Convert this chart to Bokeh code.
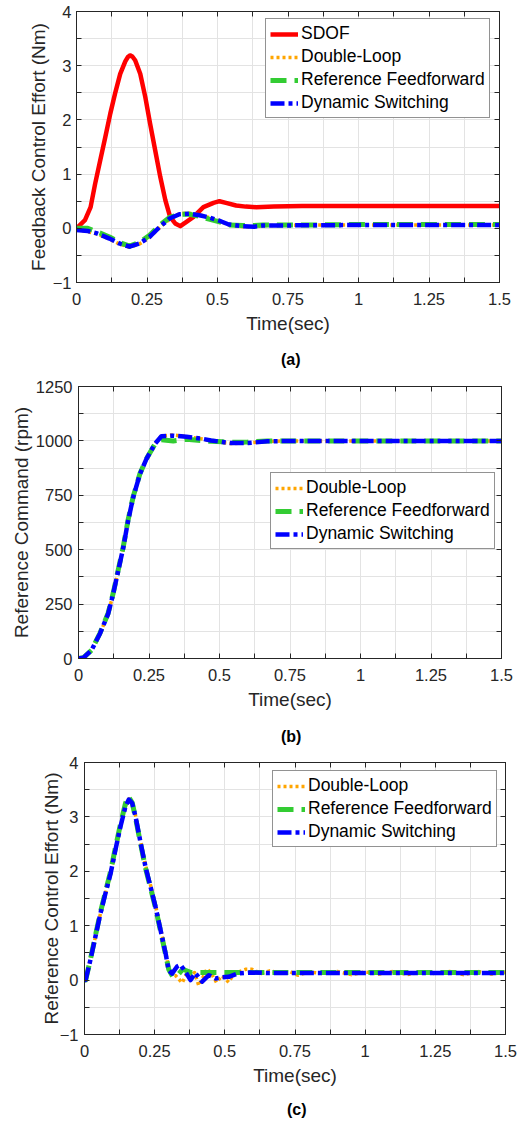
from bokeh.plotting import figure
from bokeh.layouts import column
from bokeh.models import Range1d, FixedTicker, LinearAxis, Div
from bokeh.embed import file_html
from bokeh.resources import INLINE

# ---------------- data ----------------
# panel (a): feedback control effort (Nm)
tA_sdof = [0, 0.03, 0.05, 0.066, 0.084, 0.102, 0.12, 0.137, 0.155, 0.173,
           0.182, 0.19, 0.198, 0.208, 0.226, 0.244, 0.261, 0.279, 0.297, 0.315,
           0.332, 0.35, 0.368, 0.39, 0.415, 0.45, 0.486, 0.507, 0.53, 0.566,
           0.6, 0.637, 0.7, 0.8, 1.0, 1.2, 1.5]
A_sdof = [0, 0.15, 0.39, 0.82, 1.25, 1.68, 2.12, 2.49, 2.85, 3.08,
          3.16, 3.19, 3.17, 3.1, 2.85, 2.42, 1.93, 1.44, 0.95, 0.52,
          0.21, 0.09, 0.04, 0.12, 0.21, 0.39, 0.47, 0.50, 0.47, 0.42,
          0.40, 0.39, 0.40, 0.41, 0.41, 0.41, 0.41]
tA = [0, 0.04, 0.07, 0.117, 0.152, 0.188, 0.223, 0.259, 0.294, 0.33,
      0.365, 0.40, 0.436, 0.47, 0.507, 0.54, 0.59, 0.63, 0.66, 0.8,
      1.0, 1.2, 1.5]
A_dl = [-0.03, -0.06, -0.1, -0.2, -0.29, -0.35, -0.29, -0.17, 0.01, 0.17,
        0.27, 0.28, 0.25, 0.2, 0.14, 0.06, 0.03, 0.02, 0.05, 0.06,
        0.06, 0.06, 0.06]
A_rff = [0.0, 0.0, -0.06, -0.16, -0.26, -0.33, -0.26, -0.13, 0.05, 0.2,
         0.26, 0.26, 0.22, 0.17, 0.12, 0.06, 0.05, 0.05, 0.06, 0.06,
         0.07, 0.07, 0.07]
A_dyn = [-0.03, -0.05, -0.09, -0.19, -0.28, -0.34, -0.28, -0.16, 0.02, 0.18,
         0.26, 0.27, 0.24, 0.2, 0.14, 0.07, 0.04, 0.03, 0.05, 0.055,
         0.06, 0.06, 0.06]

# panel (b): reference command (rpm)
tB = [0, 0.017, 0.046, 0.076, 0.105, 0.123, 0.141, 0.159, 0.176, 0.194,
      0.218, 0.241, 0.271, 0.294, 0.336, 0.383, 0.442, 0.47, 0.51, 0.54,
      0.6, 0.67, 0.75, 1.0, 1.25, 1.5]
B_dl = [0, 3, 38, 114, 205, 297, 404, 511, 634, 741,
        848, 917, 988, 1022, 1027, 1020, 1008, 1000, 992, 988,
        990, 998, 1000, 1000, 1000, 1000]
B_rff = [0, 3, 38, 116, 208, 300, 408, 515, 638, 744,
         850, 918, 985, 1005, 1000, 1008, 1000, 998, 996, 994,
         995, 999, 1000, 1000, 1000, 1000]
B_dyn = [0, 3, 38, 114, 205, 297, 404, 511, 634, 741,
         848, 917, 986, 1021, 1024, 1019, 1009, 1002, 995, 990,
         990, 998, 1000, 1000, 1000, 1000]

# panel (c): reference control effort (Nm)
tC_dl = [0, 0.004, 0.021, 0.039, 0.057, 0.075, 0.093, 0.11, 0.128, 0.146,
         0.158, 0.17, 0.182, 0.2, 0.217, 0.235, 0.253, 0.271, 0.289, 0.3,
         0.312, 0.325, 0.348, 0.365, 0.377, 0.392, 0.407, 0.422, 0.437, 0.452,
         0.47, 0.49, 0.514, 0.53, 0.55, 0.575, 0.597, 0.63, 0.66, 0.7,
         0.73, 0.76, 0.8, 0.85, 0.9, 0.95, 1.0, 1.05, 1.1, 1.15,
         1.2, 1.25, 1.3, 1.35, 1.4, 1.45, 1.5]
C_dl = [0, 0, 0.37, 0.8, 1.23, 1.6, 1.96, 2.39, 2.82, 3.2,
        3.33, 3.26, 3.02, 2.55, 2.12, 1.75, 1.38, 0.95, 0.52, 0.22,
        0.1, 0.08, -0.05, 0.12, 0.06, 0.14, -0.1, 0.05, 0.21, 0.12,
        -0.04, 0.08, -0.04, 0.1, 0.15, 0.2, 0.2, 0.12, 0.17, 0.13,
        0.16, 0.09, 0.15, 0.12, 0.16, 0.1, 0.15, 0.11, 0.16, 0.1,
        0.15, 0.12, 0.16, 0.1, 0.16, 0.11, 0.15]
tC_rff = [0, 0.004, 0.021, 0.039, 0.057, 0.075, 0.093, 0.11, 0.128, 0.146,
          0.156, 0.17, 0.182, 0.2, 0.217, 0.235, 0.253, 0.271, 0.289, 0.3,
          0.315, 0.33, 0.35, 0.38, 0.42, 0.5, 0.75, 1.0, 1.25, 1.5]
C_rff = [0, 0, 0.38, 0.82, 1.25, 1.63, 2.0, 2.43, 2.86, 3.25,
         3.38, 3.26, 2.98, 2.5, 2.07, 1.7, 1.33, 0.9, 0.47, 0.2,
         0.06, 0.08, 0.2, 0.14, 0.14, 0.14, 0.14, 0.14, 0.14, 0.14]
tC = [0, 0.004, 0.021, 0.039, 0.057, 0.075, 0.093, 0.11, 0.128, 0.146,
      0.158, 0.17, 0.182, 0.2, 0.217, 0.235, 0.253, 0.271, 0.289, 0.3,
      0.312, 0.33, 0.342, 0.36, 0.378, 0.395, 0.419, 0.443, 0.467, 0.49,
      0.514, 0.544, 0.59, 0.65, 0.75, 1.0, 1.25, 1.5]
C_dyn = [0, 0, 0.37, 0.8, 1.23, 1.6, 1.96, 2.39, 2.82, 3.19,
         3.32, 3.25, 3.0, 2.52, 2.09, 1.72, 1.35, 0.92, 0.49, 0.18,
         0.12, 0.25, 0.28, 0.15, 0.0, 0.13, -0.03, 0.09, 0.03, 0.05,
         0.06, 0.12, 0.14, 0.13, 0.13, 0.13, 0.13, 0.13]

x_ticks = [0, 0.25, 0.5, 0.75, 1, 1.25, 1.5]
x_minor = [0.125, 0.375, 0.625, 0.875, 1.125, 1.375]
y_ticks_nm = [-1, 0, 1, 2, 3, 4]
y_minor_nm = [-0.5, 0.5, 1.5, 2.5, 3.5]
y_ticks_rpm = [0, 250, 500, 750, 1000, 1250]
y_minor_rpm = [125, 375, 625, 875, 1125]

names = ["SDOF", "Double-Loop", "Reference Feedforward", "Dynamic Switching"]
captions = ["(a)", "(b)", "(c)"]

# ---------------- styling ----------------
FONT = "Liberation Sans"
DARK = "#262626"
GRID = "#e3e3e3"
STY = {
    "SDOF": dict(line_color="#ff0000", line_width=4.5, line_dash="solid"),
    "Double-Loop": dict(line_color="#ffa500", line_width=3.5, line_dash="3 3"),
    "Reference Feedforward": dict(line_color="#33cc33", line_width=5, line_dash="16 8"),
    "Dynamic Switching": dict(line_color="#0000ff", line_width=4.5, line_dash="14 4 4 4"),
}


def style_axis(ax, show_labels=True, label_standoff=5):
    ax.axis_line_color = DARK
    ax.axis_line_width = 1
    ax.major_tick_in = 5
    ax.major_tick_out = 0
    ax.minor_tick_in = 5
    ax.minor_tick_out = 0
    ax.major_tick_line_color = DARK
    ax.minor_tick_line_color = DARK
    ax.major_label_text_font = FONT
    ax.axis_label_text_font = FONT
    ax.axis_label_text_font_size = "19px"
    ax.axis_label_text_font_style = "normal"
    ax.axis_label_text_color = DARK
    ax.major_label_text_font_size = "16.5px"
    if show_labels:
        ax.major_label_text_color = DARK
        ax.major_label_standoff = label_standoff
    else:
        ax.major_label_text_color = None
        ax.major_label_standoff = 0


def make_panel(fw, fh, bl, br, bt, bb, yr, yt, ym, ylabel, series,
               legend_xy, ystand, ylab_stand):
    p = figure(frame_width=fw, frame_height=fh, frame_align=False,
               min_border_left=bl, min_border_right=br,
               min_border_top=bt, min_border_bottom=bb,
               x_range=Range1d(0, 1.5), y_range=Range1d(*yr),
               output_backend="svg", toolbar_location=None,
               background_fill_color="white", border_fill_color="white")
    p.outline_line_color = DARK
    p.outline_line_width = 1
    xtk = FixedTicker(ticks=x_ticks, minor_ticks=x_minor)
    ytk = FixedTicker(ticks=yt, minor_ticks=ym)
    p.xaxis.ticker = xtk
    p.yaxis.ticker = ytk
    p.xaxis.axis_label = "Time(sec)"
    p.yaxis.axis_label = ylabel
    style_axis(p.xaxis[0], True, 10)
    style_axis(p.yaxis[0], True, ystand)
    p.xaxis.axis_label_standoff = 5
    p.yaxis.axis_label_standoff = ylab_stand
    top = LinearAxis(ticker=xtk)
    right = LinearAxis(ticker=ytk)
    style_axis(top, False)
    style_axis(right, False)
    p.add_layout(top, "above")
    p.add_layout(right, "right")
    for g in (p.xgrid, p.ygrid):
        g.grid_line_color = GRID
        g.minor_grid_line_color = GRID
        g.grid_line_width = 1
        g.minor_grid_line_width = 1

    for name, tx, vy in series:
        p.line(tx, vy, legend_label=name, line_join="round", **STY[name])

    lg = p.legend[0]
    lg.location = legend_xy
    lg.margin = 0
    lg.padding = 4
    lg.spacing = 2
    lg.label_standoff = 3
    lg.glyph_width = 28
    lg.glyph_height = 20
    lg.label_height = 20
    lg.label_text_font = FONT
    lg.label_text_font_size = "17.5px"
    lg.label_text_color = "#000000"
    lg.border_line_color = DARK
    lg.border_line_width = 1
    lg.background_fill_color = "white"
    lg.background_fill_alpha = 1
    return p


def caption(text, left, h):
    html = ('<span style="display:inline-block; margin-left:%dpx; '
            'font-family:\'Liberation Sans\'; font-size:16px; font-weight:bold; '
            'line-height:%dpx; color:#000000;">%s</span>' % (left, h, text))
    return Div(text=html, width=520, height=h, margin=0,
               styles={"line-height": "%dpx" % h, "overflow": "hidden"})


pa = make_panel(423, 271, 76, 23, 11, 63, (-1, 4), y_ticks_nm, y_minor_nm,
                "Feedback Control Effort (Nm)",
                [(names[0], tA_sdof, A_sdof), (names[1], tA, A_dl),
                 (names[2], tA, A_rff), (names[3], tA, A_dyn)],
                (189, 164), 5, 1)
pb = make_panel(423, 272, 78, 21, 11, 64, (0, 1250), y_ticks_rpm, y_minor_rpm,
                "Reference Command (rpm)",
                [(names[1], tB, B_dl), (names[2], tB, B_rff),
                 (names[3], tB, B_dyn)],
                (192, 109), 6, 1)
pc = make_panel(421, 272, 84, 17, 10, 64, (-1, 4), y_ticks_nm, y_minor_nm,
                "Reference Control Effort (Nm)",
                [(names[1], tC_dl, C_dl), (names[2], tC_rff, C_rff),
                 (names[3], tC, C_dyn)],
                (188, 187), 6, -5)

layout = column(pa, caption(captions[0], 281, 30),
                pb, caption(captions[1], 281, 30),
                pc, caption(captions[2], 287, 24), spacing=0)
open("out.html", "w").write(file_html(layout, INLINE))
